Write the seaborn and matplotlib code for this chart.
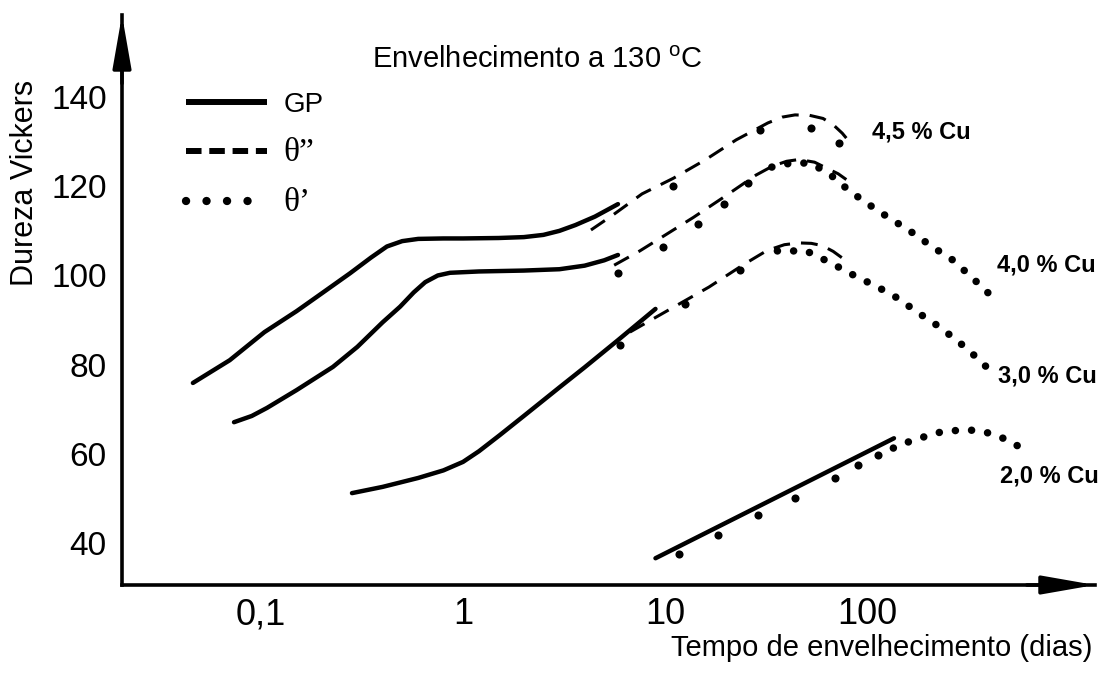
import matplotlib
matplotlib.use("Agg")
import matplotlib.pyplot as plt
from matplotlib.lines import Line2D
import seaborn as sns

# ---------------- data ----------------
# 4,5 % Cu
gp45_t = [0.046, 0.07, 0.104, 0.15, 0.2, 0.276, 0.35, 0.42, 0.5, 0.6, 0.8, 1.0,
          1.5, 2.0, 2.5, 3.0, 3.6, 4.5, 5.85]
gp45_h = [75.9, 81.0, 87.3, 92.0, 96.0, 100.5, 104.0, 106.5, 107.7, 108.2, 108.3, 108.3,
          108.4, 108.6, 109.1, 110.0, 111.3, 113.2, 116.0]
th2_45_t = [4.3, 5.5, 7.7, 11.0, 15.8, 22.5, 32.3, 38.0, 44.0, 52.0, 60.6, 68.0, 75.4, 79.0]
th2_45_h = [110.2, 113.5, 118.3, 121.8, 125.9, 130.4, 134.2, 135.5, 136.0, 135.9, 135.2, 133.8, 131.9, 130.8]
th1_45_t = [11.0, 29.5, 52.7, 72.8]
th1_45_h = [120.0, 132.7, 133.0, 129.6]

# 4,0 % Cu
gp40_t = [0.0735, 0.09, 0.107, 0.15, 0.227, 0.3, 0.4, 0.488, 0.57, 0.65, 0.75, 0.862,
          1.2, 2.0, 3.0, 4.0, 5.0, 5.85]
gp40_h = [67.1, 68.5, 70.3, 74.3, 79.5, 84.0, 89.5, 93.0, 96.2, 98.5, 100.0, 100.6,
          100.9, 101.1, 101.4, 102.2, 103.4, 104.6]
th2_40_t = [5.6, 7.5, 9.5, 13.8, 19.6, 28.2, 34.0, 40.0, 46.0, 55.0, 63.5, 72.0, 79.0]
th2_40_h = [102.3, 105.5, 108.4, 113.0, 117.6, 122.5, 124.5, 125.6, 126.0, 125.4, 124.0, 122.8, 121.5]
th1_40_rise_t = [5.85, 9.8, 14.5, 19.6, 25.8]
th1_40_rise_h = [100.5, 106.3, 111.5, 116.0, 120.8]
th1_40_t = [33.8, 42.0, 51.6, 63.5, 78.8, 94.7, 118, 142, 169, 211, 265, 330, 417]
th1_40_h = [124.3, 125.2, 125.2, 123.2, 119.6, 116.9, 114.0, 111.7, 109.5, 106.4, 103.5, 99.6, 95.2]

# 3,0 % Cu
gp30_t = [0.282, 0.4, 0.6, 0.8, 1.0, 1.2, 1.52, 2.0, 3.0, 4.0, 5.85, 8.97]
gp30_h = [51.2, 52.6, 54.6, 56.3, 58.2, 60.6, 64.2, 68.5, 74.9, 79.4, 85.5, 92.5]
th2_30_t = [6.7, 10.0, 16.5, 24.6, 32.0, 39.0, 46.0, 53.0, 60.0, 68.0, 75.0]
th2_30_h = [87.3, 91.8, 97.4, 102.5, 105.6, 106.9, 107.3, 107.2, 106.7, 105.4, 104.0]
th1_30_rise_t = [6.0, 12.6, 23.5]
th1_30_rise_h = [84.5, 93.5, 101.3]
th1_30_t = [36.0, 50.0, 65.0, 86.4, 113, 142, 177, 221, 278, 330, 390]
th1_30_h = [105.5, 105.5, 103.0, 100.0, 97.4, 94.9, 91.8, 88.9, 85.5, 82.6, 79.5]

# 2,0 % Cu
gp20_t = [8.97, 136.0]
gp20_h = [36.6, 63.5]
th1_20_rise_t = [11.7, 18.3, 28.9, 44.0, 69.6, 90.5, 113.0]
th1_20_rise_h = [37.6, 41.8, 46.3, 50.2, 54.6, 57.4, 59.8]
th1_20_t = [135, 169, 232, 285, 330, 398, 500, 580]
th1_20_h = [61.3, 63.1, 64.9, 65.3, 65.3, 64.7, 63.1, 61.3]

alloy_labels = ["4,5 % Cu", "4,0 % Cu", "3,0 % Cu", "2,0 % Cu"]
label_t = [106, 440, 445, 456]
label_h = [132.2, 102.3, 77.5, 55.0]

x_ticks = [0.1, 1, 10, 100]
x_ticklabels = ["0,1", "1", "10", "100"]
y_ticks = [40, 60, 80, 100, 120, 140]
y_minor = [50, 70, 90, 110, 130]

# ---------------- style ----------------
sns.set_style("white")
plt.rcParams["font.family"] = ["Liberation Sans", "DejaVu Sans"]
plt.rcParams["mathtext.fontset"] = "custom"
plt.rcParams["mathtext.rm"] = "Liberation Sans"
for k in ["text.color", "axes.labelcolor", "xtick.color", "ytick.color"]:
    plt.rcParams[k] = "black"

W, H = 1117, 680
fig = plt.figure(figsize=(W / 100, H / 100), dpi=100)
ax = fig.add_axes([122 / W, (H - 585) / H, (1095 - 122) / W, (585 - 15) / H])
ax.set_xscale("log")
ax.set_xlim(0.0205, 1345)
ax.set_ylim(30.6, 158.4)

solid = dict(color="black", linewidth=3.2, solid_capstyle="round", solid_joinstyle="round")
dashed = dict(color="black", linewidth=2.2, linestyle=(0, (5.5, 3.6)))
dotted = dict(color="black", linewidth=5.4, linestyle=(0, (0.01, 2.15)),
              dash_capstyle="round")

def line(t, h, kw):
    sns.lineplot(x=t, y=h, ax=ax, estimator=None, sort=True, **kw)

def pts(t, h):
    sns.scatterplot(x=t, y=h, ax=ax, color="black", s=34, linewidth=0,
                    marker="o", zorder=3)

# GP zones (solid)
for t, h in [(gp45_t, gp45_h), (gp40_t, gp40_h), (gp30_t, gp30_h), (gp20_t, gp20_h)]:
    line(t, h, solid)
# theta'' (dashed)
for t, h in [(th2_45_t, th2_45_h), (th2_40_t, th2_40_h), (th2_30_t, th2_30_h)]:
    line(t, h, dashed)
# theta' (dotted)
for t, h in [(th1_40_t, th1_40_h), (th1_30_t, th1_30_h), (th1_20_t, th1_20_h)]:
    line(t, h, dotted)
for t, h in [(th1_45_t, th1_45_h), (th1_40_rise_t, th1_40_rise_h),
             (th1_30_rise_t, th1_30_rise_h), (th1_20_rise_t, th1_20_rise_h)]:
    pts(t, h)

# alloy labels
for lab, t, h in zip(alloy_labels, label_t, label_h):
    ax.text(t, h, lab, fontsize=17, fontweight="bold", ha="left", va="center")

# axes / ticks
for s in ["top", "right"]:
    ax.spines[s].set_visible(False)
for s in ["left", "bottom"]:
    ax.spines[s].set_linewidth(2.6)
    ax.spines[s].set_color("black")
ax.set_xticks(x_ticks)
ax.set_xticklabels(x_ticklabels)
ax.xaxis.set_minor_locator(matplotlib.ticker.NullLocator())
ax.set_yticks(y_ticks)
ax.set_yticks(y_minor, minor=True)
ax.tick_params(axis="x", which="major", direction="in", length=7, width=1.6,
               labelsize=26, pad=9)
ax.tick_params(axis="y", which="both", direction="in", length=8, width=1.8,
               labelsize=24, pad=11)
ax.tick_params(axis="y", which="minor", labelleft=False)
ax.set_xlabel("")
ax.set_ylabel("")

# arrow heads on the axes
arrow_kw = dict(arrowstyle="-|>,head_length=1.6,head_width=0.28",
                color="black", lw=2.6, shrinkA=0, shrinkB=0, mutation_scale=20)
ax.annotate("", xy=(1.0, 0.0), xytext=(0.93, 0.0), xycoords="axes fraction",
            textcoords="axes fraction", arrowprops=arrow_kw, annotation_clip=False)
ax.annotate("", xy=(0.0, 1.0), xytext=(0.0, 0.88), xycoords="axes fraction",
            textcoords="axes fraction", arrowprops=arrow_kw, annotation_clip=False)

# legend
handles = [
    Line2D([], [], color="black", linewidth=4.3, solid_capstyle="butt"),
    Line2D([], [], color="black", linewidth=4.3, linestyle=(0, (2.6, 1.3))),
    Line2D([], [], color="black", linewidth=6.0, linestyle=(0, (0.01, 2.45)),
           dash_capstyle="round"),
]
leg = ax.legend(handles, ["GP", "\u03b8\u201d", "\u03b8\u2019"],
                loc="upper left",
                bbox_to_anchor=((186 - 122) / (1095 - 122), 1 - (92 - 15) / 570),
                frameon=False, fontsize=20, handlelength=2.9, handletextpad=0.6,
                labelspacing=0.7, borderpad=0, borderaxespad=0)
for txt in leg.get_texts()[1:]:
    txt.set_family(["Liberation Serif", "DejaVu Serif"])
    txt.set_fontsize(24)

# texts
fig.text(372 / W, 1 - 60 / H, "Envelhecimento a 130 $^{\\mathrm{o}}$C",
         fontsize=21, ha="left", va="center")
fig.text(25 / W, 1 - 183 / H, "Dureza Vickers", fontsize=22, rotation=90,
         ha="center", va="center")
fig.text(882 / W, 1 - 648 / H, "Tempo de envelhecimento (dias)", fontsize=21,
         ha="center", va="center")

fig.savefig("out.png", dpi=100, facecolor="white")
